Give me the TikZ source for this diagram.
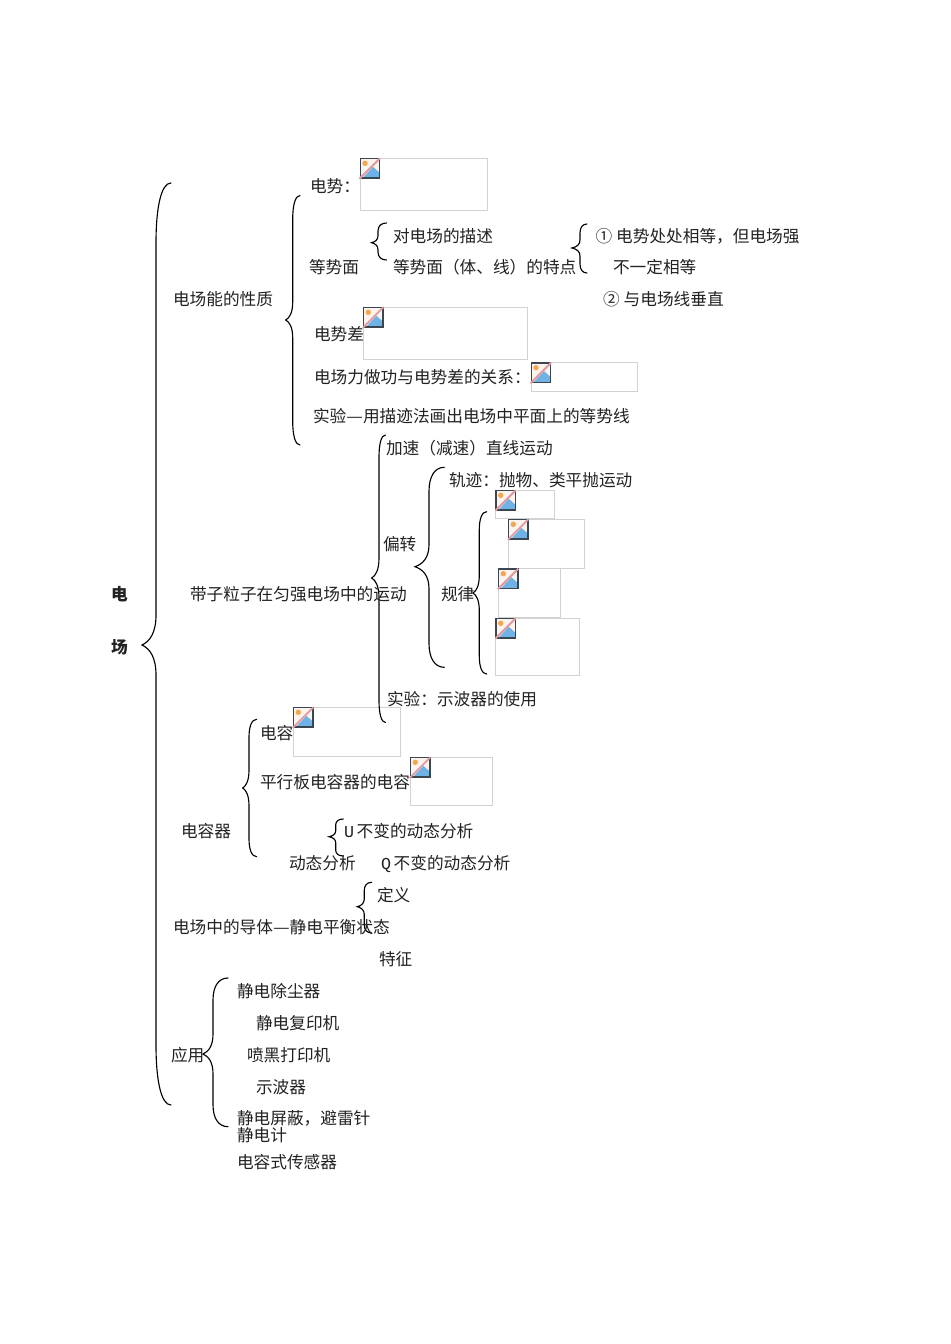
\documentclass[tikz,border=0pt]{standalone}
\usepackage{fontspec}
\setmainfont{Noto Sans CJK SC}
\newfontfamily\latinmono{Liberation Mono}
\definecolor{inkc}{HTML}{222222}
\definecolor{framec}{HTML}{D2D2D2}
\definecolor{icondark}{HTML}{3A4650}
\definecolor{iconblue}{HTML}{6FB2E6}
\definecolor{iconpink}{HTML}{E09AA0}
\definecolor{iconsun}{HTML}{F2A850}
\definecolor{icontint}{HTML}{FCF2EE}
\newcommand{\fulldash}{\makebox[12.5pt][c]{\resizebox{12.5pt}{\height}{—}}}
\tikzset{
  lbl/.style={inner sep=0pt,outer sep=0pt,anchor=west,text=inkc,text height=10.5pt,text depth=2pt,yshift=-1.1pt,
    font=\fontsize{12.5}{14}\selectfont},
  lblb/.style={lbl,font=\fontsize{12.5}{14}\selectfont\bfseries},
  curly/.style={draw=black,line width=0.85pt,line cap=round},
  frm/.style={draw=framec,line width=0.7pt,inner sep=0pt,outer sep=0pt,anchor=north west}
}
% xright, ytop, xstem, xtip, ymid, ybottom, r, q
\newcommand{\curlyb}[8]{%
  \draw[curly] (#1,#2) .. controls ({#3+(#1-#3)*.35},#2) and (#3,{#2+#7*.4}) .. (#3,{#2+#7})
    -- (#3,{#5-#8}) .. controls (#3,{#5-#8*.4}) and ({#3-(#3-#4)*.45},{#5-#8*.12}) .. (#4,#5)
    .. controls ({#3-(#3-#4)*.45},{#5+#8*.12}) and (#3,{#5+#8*.4}) .. (#3,{#5+#8})
    -- (#3,{#6-#7}) .. controls (#3,{#6-#7*.4}) and ({#3+(#1-#3)*.35},#6) .. (#1,#6);}
% name, x1, y1, x2, y2
\newcommand{\picbox}[5]{%
  \pgfmathsetmacro{\bw}{(#4-#2)*0.75}\pgfmathsetmacro{\bh}{(#5-#3)*0.75}%
  \node[frm,minimum width=\bw pt,minimum height=\bh pt] (#1) at (#2,#3) {};
  \begin{scope}[shift={(#2,#3)}]
    \fill[icontint] (0.5,0.5) rectangle (19.5,19.5);
    \fill[iconsun] (5,5) circle (2.7);
    \fill[iconblue] (3,19.3) -- (13,8.5) -- (19.3,14) -- (19.3,19.3) -- cycle;
    \draw[icondark,line width=0.9pt] (0.3,0.3) rectangle (19.7,19.7);
    \draw[iconpink,line width=1.4pt] (-0.5,20.5) -- (20,0);
  \end{scope}}
\begin{document}
\begin{tikzpicture}[x=0.75pt,y=-0.75pt]
\path[use as bounding box,fill=white] (0,0) rectangle (950,1344);
% image placeholders
\picbox{p1}{360}{158.3}{487.3}{210.3}
\picbox{p2}{363.3}{307.3}{527.3}{359.3}
\picbox{p3}{531}{362.7}{637.3}{391}
\picbox{p4}{495.7}{490.3}{554.3}{518.3}
\picbox{p5}{508.3}{519.3}{584.3}{568.3}
\picbox{p6}{498.3}{568.7}{560.3}{617.3}
\picbox{p7}{495.7}{618.3}{579.7}{675.3}
\picbox{p8}{293.3}{707.3}{400.7}{756.3}
\picbox{p9}{410.3}{757.3}{492.7}{805.7}
% braces
\curlyb{171}{183}{156}{142}{645}{1105}{60}{30}
\curlyb{300}{195.5}{292.7}{285.7}{320}{445}{24}{18}
\curlyb{386.5}{223}{378}{371.5}{242.7}{260}{8}{7}
\curlyb{587}{224}{580}{572}{248}{273}{9}{8}
\curlyb{385.5}{435}{379}{371.7}{578}{722.5}{22}{20}
\curlyb{444.3}{467.3}{429}{415}{566.7}{667.3}{24}{22}
\curlyb{486.7}{511.7}{479.3}{473}{593}{674}{18}{18}
\curlyb{256.7}{719.3}{249}{242.7}{788}{856.7}{18}{18}
\curlyb{343.3}{819}{335.7}{329}{836.7}{856}{6}{6}
\curlyb{371.7}{882.3}{364.3}{357.3}{906.7}{933}{8}{8}
\curlyb{228}{978}{213}{203}{1054}{1126.7}{22}{20}
% labels
\node[lblb] (root1) at (111,593) {电};
\node[lblb] (root2) at (111,646) {场};
\node[lbl] (a0) at (173,298) {电场能的性质};
\node[lbl] (a1) at (310,185) {电势：};
\node[lbl] (a2) at (309,266) {等势面};
\node[lbl] (a3) at (393,235) {对电场的描述};
\node[lbl] (a4) at (393,266) {等势面（体、线）的特点};
\node[lbl] (a5) at (595.5,235) {①\hspace{3pt}电势处处相等，但电场强};
\node[lbl] (a6) at (613,266) {不一定相等};
\node[lbl] (a7) at (603,298) {②\hspace{3pt}与电场线垂直};
\node[lbl] (a8) at (314,333) {电势差};
\node[lbl] (a9) at (314,376) {电场力做功与电势差的关系：};
\node[lbl] (a10) at (313,415) {实验\fulldash 用描迹法画出电场中平面上的等势线};
\node[lbl] (b0) at (190,593) {带子粒子在匀强电场中的运动};
\node[lbl] (b1) at (386,447) {加速（减速）直线运动};
\node[lbl] (b2) at (383,543) {偏转};
\node[lbl] (b3) at (449,479) {轨迹：抛物、类平抛运动};
\node[lbl] (b4) at (441,593) {规律};
\node[lbl] (b5) at (387,698) {实验：示波器的使用};
\node[lbl] (c0) at (181,830) {电容器};
\node[lbl] (c1) at (260,732) {电容};
\node[lbl] (c2) at (260,781) {平行板电容器的电容};
\node[lbl] (c3) at (344,830) {\makebox[9.5pt][l]{\latinmono U}不变的动态分析};
\node[lbl] (c4) at (289,862) {动态分析};
\node[lbl] (c5) at (381,862) {\makebox[9.5pt][l]{\latinmono Q}不变的动态分析};
\node[lbl] (d0) at (173,926) {电场中的导体\fulldash 静电平衡状态};
\node[lbl] (d1) at (377,894) {定义};
\node[lbl] (d2) at (379,958) {特征};
\node[lbl] (e0) at (171,1054) {应用};
\node[lbl] (e1) at (237,990) {静电除尘器};
\node[lbl] (e2) at (256,1022) {静电复印机};
\node[lbl] (e3) at (247,1054) {喷黑打印机};
\node[lbl] (e4) at (256,1086) {示波器};
\node[lbl] (e5) at (237,1117) {静电屏蔽，避雷针};
\node[lbl] (e6) at (237,1134) {静电计};
\node[lbl] (e7) at (237,1161) {电容式传感器};
\end{tikzpicture}
\end{document}
